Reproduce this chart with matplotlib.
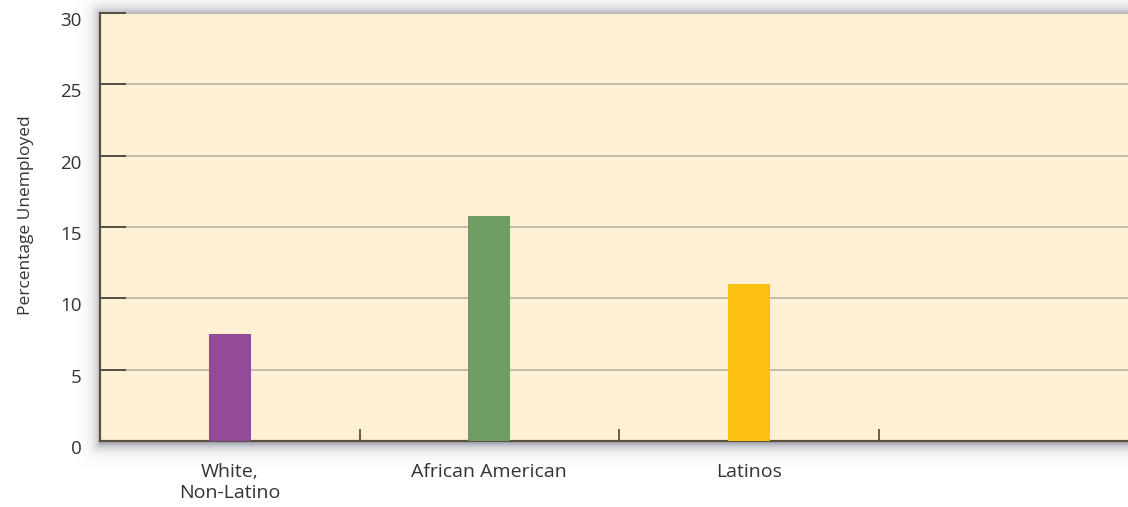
import numpy as np
import matplotlib
matplotlib.use("Agg")
import matplotlib.pyplot as plt
from matplotlib.transforms import ScaledTranslation

categories = ["White,\nNon-Latino", "African American", "Latinos"]
values = [7.5, 15.8, 11.0]
bar_colors = ["#934A98", "#6E9C63", "#FCC010"]
yticks = [0, 5, 10, 15, 20, 25, 30]

W, H = 1128, 507
fig = plt.figure(figsize=(W / 100, H / 100), dpi=100)
plt.rcParams['font.family'] = ['Open Sans', 'DejaVu Sans']

# soft drop shadow behind the plot area
x0, x1, y0, y1 = 100, 1140, 13, 441
yy, xx = np.mgrid[0:H, 0:W]
dx = np.maximum(np.maximum(x0 - xx, 0), xx - x1)
dy = np.maximum(np.maximum(y0 - yy, 0), yy - (y1 + 2))
d = np.hypot(dx, dy)
alpha = 0.55 * np.exp(-d / 6.0)
alpha[(xx >= x0) & (xx <= x1) & (yy >= y0) & (yy <= y1)] = 0
img = np.zeros((H, W, 4))
img[..., 0] = 0.42
img[..., 1] = 0.43
img[..., 2] = 0.50
img[..., 3] = alpha
bg = fig.add_axes([0, 0, 1, 1], zorder=0)
bg.imshow(img, extent=[0, W, H, 0], aspect='auto', interpolation='bilinear')
bg.set_xlim(0, W)
bg.set_ylim(H, 0)
bg.axis('off')

ax = fig.add_axes([100 / W, (H - 441) / H, 1038 / W, 428 / H], zorder=1)
ax.set_facecolor("#FDF0D4")

xpos = np.arange(len(categories))
ax.bar(xpos, values, width=0.162, color=bar_colors, zorder=3)

ax.set_xlim(-0.5, 3.5)
ax.set_ylim(0, 30)
ax.set_yticks(yticks)
ax.set_yticklabels([str(t) for t in yticks], fontsize=13.5, color="#333333")
ax.tick_params(axis='y', direction='in', length=19, width=1.3, color="#4E4536", pad=13)
shift = ScaledTranslation(0, -6 / 100, fig.dpi_scale_trans)
for lab in ax.get_yticklabels():
    lab.set_transform(lab.get_transform() + shift)

ax.set_xticks([0.5, 1.5, 2.5])
ax.set_xticklabels([])
ax.tick_params(axis='x', direction='in', length=8.5, width=1.2, color="#4E4536")
ax.set_xticks(xpos, minor=True)
ax.set_xticklabels(categories, minor=True, fontsize=14, color="#333333", linespacing=1.2)
ax.tick_params(axis='x', which='minor', length=0, pad=16)

ax.yaxis.grid(True, color="#B9B2A2", linewidth=1.2, zorder=1)
ax.set_axisbelow(True)

for s in ["top", "right"]:
    ax.spines[s].set_visible(False)
for s in ["left", "bottom"]:
    ax.spines[s].set_color("#5A5040")
    ax.spines[s].set_linewidth(1.6)

ax.set_ylabel("Percentage Unemployed", fontsize=12.5, color="#333333")
ax.yaxis.set_label_coords(-0.0637, 0.528)

fig.savefig("out.png", dpi=100)
